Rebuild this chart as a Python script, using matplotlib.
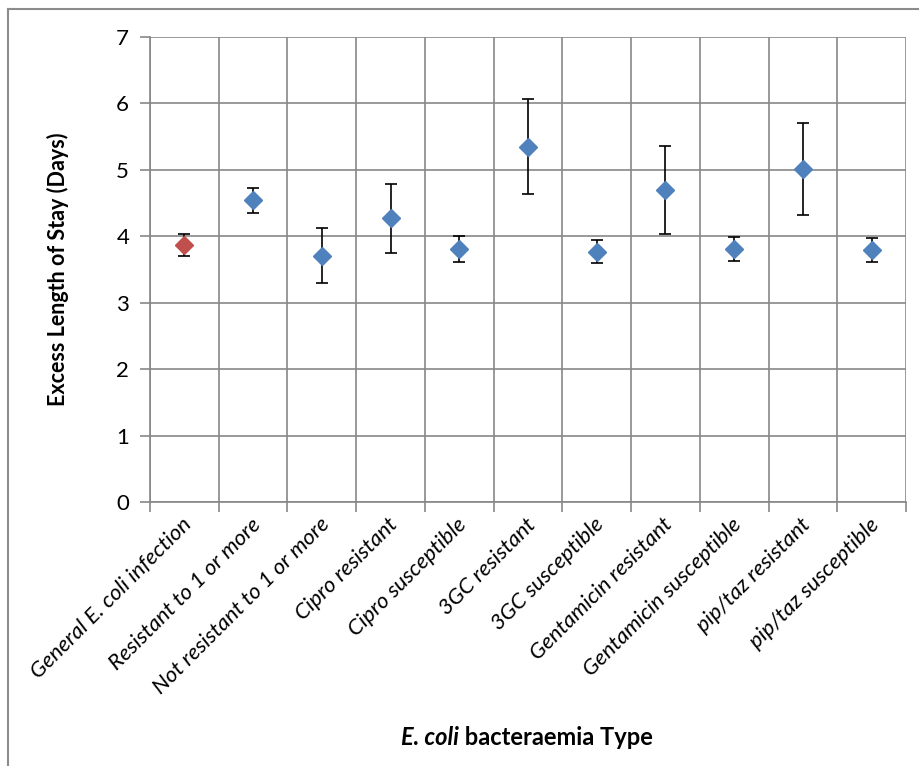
import numpy as np
import matplotlib
matplotlib.use("Agg")
import matplotlib.pyplot as plt
from matplotlib.lines import Line2D

plt.rcParams['font.family'] = ['Lato', 'DejaVu Sans']

categories = ["General E. coli infection", "Resistant to 1 or more",
              "Not resistant to 1 or more", "Cipro resistant", "Cipro susceptible",
              "3GC resistant", "3GC susceptible", "Gentamicin resistant",
              "Gentamicin susceptible", "pip/taz resistant", "pip/taz susceptible"]
excess_los = [3.87, 4.54, 3.70, 4.27, 3.81, 5.34, 3.77, 4.70, 3.81, 5.02, 3.80]
ci_low = [3.70, 4.35, 3.29, 3.75, 3.62, 4.63, 3.60, 4.03, 3.63, 4.32, 3.62]
ci_high = [4.04, 4.73, 4.12, 4.79, 4.00, 6.06, 3.95, 5.36, 3.99, 5.71, 3.98]

blue = "#4F81BD"
red = "#C0504D"
grid_c = "#878787"

fig = plt.figure(figsize=(9.19, 7.66), dpi=100)
ax = fig.add_axes([150 / 919, 1 - 502 / 766, 756 / 919, 465 / 766])

x = np.arange(len(categories))
y = np.array(excess_los)
yerr = np.vstack([y - np.array(ci_low), np.array(ci_high) - y])
ax.errorbar(x, y, yerr=yerr, fmt="none", ecolor="black", elinewidth=1.2,
            capsize=4.5, capthick=1.2, zorder=3)
colors = [red] + [blue] * (len(categories) - 1)
for xi, yi, c in zip(x, y, colors):
    ax.plot(xi, yi, marker="D", ms=9, color=c, mec=c, ls="none", zorder=4)

ax.set_xlim(-0.5, len(categories) - 0.5)
ax.set_ylim(0, 7)
ax.set_yticks(range(8))
ax.tick_params(axis="y", labelsize=16, length=7, width=1.2, color=grid_c, pad=8)

# category boundaries for grid and ticks
bounds = np.arange(len(categories) + 1) - 0.5
ax.set_xticks(bounds)
ax.set_xticklabels([])
ax.tick_params(axis="x", length=7, width=1.2, color=grid_c)
ax.grid(True, color=grid_c, lw=1.2)
ax.set_axisbelow(True)
for s in ["top", "right"]:
    ax.spines[s].set_visible(False)
for s in ["left", "bottom"]:
    ax.spines[s].set_color(grid_c)
    ax.spines[s].set_linewidth(1.2)

for xi, lab in zip(x, categories):
    ax.annotate(lab, xy=(xi, 0), xycoords=("data", "axes fraction"),
                xytext=(3, -14), textcoords="offset points",
                rotation=45, rotation_mode="anchor", ha="right", va="center",
                fontsize=16, style="italic")

ax.set_ylabel("Excess Length of Stay (Days)", fontsize=15.5, fontweight="bold",
              labelpad=34)

t1 = fig.text(0.5, 1 - 745 / 766, "E. coli", fontsize=17, fontweight="bold",
              style="italic", ha="left", va="baseline")
t2 = fig.text(0.5, 1 - 745 / 766, " bacteraemia Type", fontsize=17,
              fontweight="bold", ha="left", va="baseline")
fig.canvas.draw()
r = fig.canvas.get_renderer()
w1 = t1.get_window_extent(r).width
w2 = t2.get_window_extent(r).width
cx = 527
start = cx - (w1 + w2) / 2
t1.set_x(start / 919)
t2.set_x((start + w1) / 919)

# chart area frame (left and top edges visible)
fig.add_artist(Line2D([8 / 919, 8 / 919], [0, 1 - 9 / 766], color="#8c8c8c", lw=1.5))
fig.add_artist(Line2D([8 / 919, 1], [1 - 9 / 766, 1 - 9 / 766], color="#8c8c8c", lw=1.5))

fig.savefig("out.png", dpi=100)
